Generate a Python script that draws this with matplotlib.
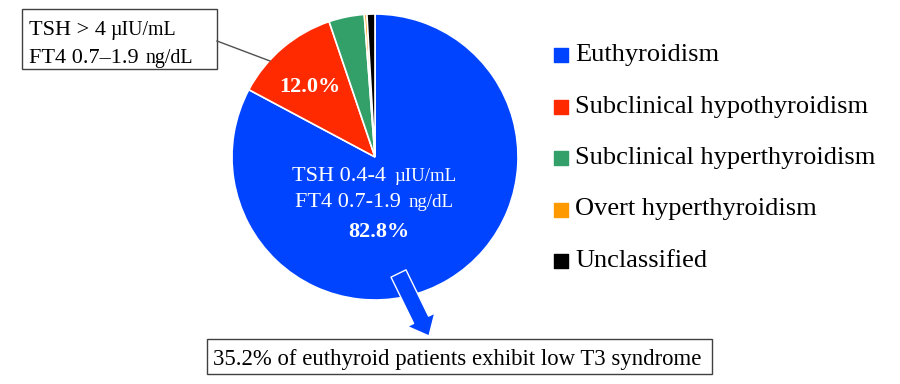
import matplotlib.pyplot as plt
from matplotlib.patches import Rectangle, FancyArrowPatch

plt.rcParams['font.family'] = ['Liberation Serif', 'DejaVu Serif']

# data
categories = ['Euthyroidism', 'Subclinical hypothyroidism', 'Subclinical hyperthyroidism',
              'Overt hyperthyroidism', 'Unclassified']
shares = [82.8, 12.0, 4.0, 0.3, 0.9]
colors = ['#0044ff', '#ff2a00', '#33a06a', '#ff9900', '#000000']
note_text = '35.2% of euthyroid patients exhibit low T3 syndrome'

W, H = 900, 384
fig = plt.figure(figsize=(9, 3.84), dpi=100)
ax = fig.add_axes([0, 0, 1, 1])


def Y(y):
    # pixel row (from top) -> data y (from bottom)
    return H - y


wedges, _ = ax.pie(shares, colors=colors, startangle=90, counterclock=False,
                   center=(375, Y(157)), radius=143,
                   wedgeprops=dict(edgecolor='white', linewidth=1.2))
ax.set_xlim(0, W)
ax.set_ylim(0, H)
ax.set_aspect('equal')
ax.axis('off')

renderer = fig.canvas.get_renderer()


def rich(x, y, segs, color, center=True, gap=7):
    # segs: list of (text, size, weight); drawn on a common baseline
    texts, widths = [], []
    for s, fs, wt in segs:
        t = ax.text(0, Y(y), s, fontsize=fs, fontweight=wt, color=color, va='baseline', ha='left')
        texts.append(t)
        widths.append(t.get_window_extent(renderer).width)
    gaps = [gap] * (len(segs) - 1) + [0]
    total = sum(widths) + sum(gaps)
    x0 = x - total / 2 if center else x
    for t, w, g in zip(texts, widths, gaps):
        t.set_x(x0)
        x0 += w + g


# labels inside the pie
rich(310, 92, [('12.0%', 16, 'bold')], 'white')
rich(374, 181, [('TSH 0.4-4', 16, 'normal'), ('\u00b5IU/mL', 13.6, 'normal')], 'white', gap=8)
rich(374, 207, [('FT4 0.7-1.9', 16, 'normal'), ('ng/dL', 13.6, 'normal')], 'white', gap=8)
rich(379, 237, [('82.8%', 16, 'bold')], 'white')

# callout box for subclinical hypothyroidism
ax.add_patch(Rectangle((22, Y(69)), 195, 60, facecolor='white', edgecolor='#404040', lw=1))
rich(29, 35, [('TSH > 4', 16, 'normal'), ('\u00b5IU/mL', 14.3, 'normal')], 'black', center=False, gap=4)
rich(29, 63, [('FT4 0.7\u20131.9', 16, 'normal'), ('ng/dL', 14.3, 'normal')], 'black', center=False, gap=7)
ax.plot([217, 270], [Y(41), Y(61)], color='#505050', lw=1)

# arrow to the low T3 note
ax.add_patch(FancyArrowPatch((398.5, Y(273.5)), (429, Y(336)),
                             arrowstyle='simple,head_width=22,head_length=13,tail_width=12',
                             shrinkA=0, shrinkB=0, facecolor='#0044ff', edgecolor='white', lw=1))
ax.add_patch(Rectangle((207, Y(374)), 505, 35, facecolor='white', edgecolor='#404040', lw=1))
rich(457, 365, [(note_text, 16.4, 'normal')], 'black')

# legend
for i, (lab, c) in enumerate(zip(categories, colors)):
    yy = 55 + i * 51.5
    ax.scatter([560.5], [Y(yy)], marker='s', s=90, color=c)
    ax.text(575, Y(yy), lab, fontsize=19, va='center', ha='left', color='black')

fig.savefig('out.png', dpi=100)
